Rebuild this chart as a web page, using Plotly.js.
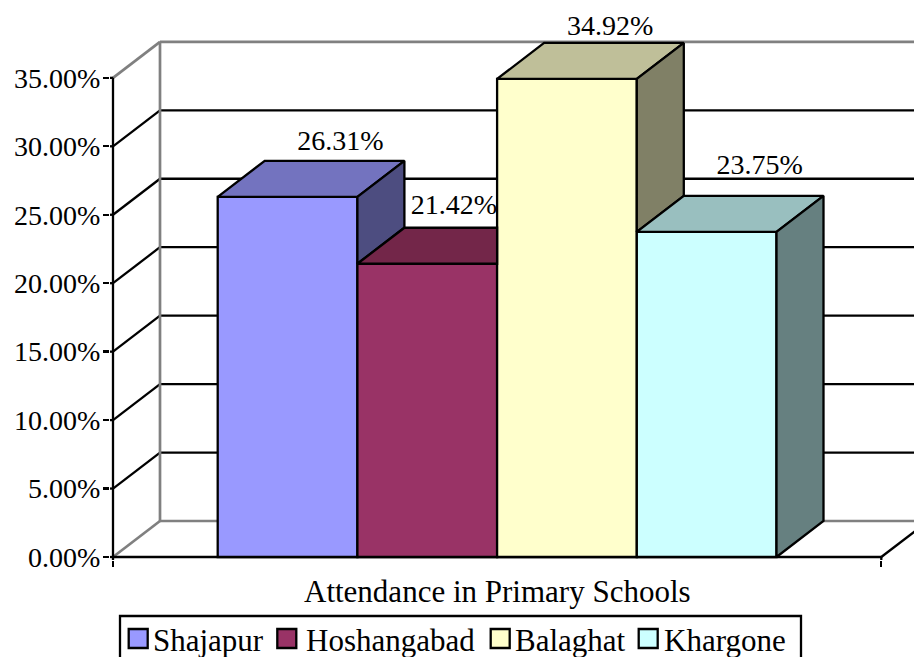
<!DOCTYPE html>
<html>
<head>
<meta charset="utf-8">
<script src="https://cdn.plot.ly/plotly-3.0.1.min.js"></script>
<style>html,body{margin:0;padding:0;background:#fff;overflow:hidden}</style>
</head>
<body>
<div id="chart" style="width:914px;height:657px"></div>
<script>
const districts = ['Shajapur', 'Hoshangabad', 'Balaghat', 'Khargone'];
const attendance = [26.31, 21.42, 34.92, 23.75];
const frontColors = ['#9999FF', '#993366', '#FFFFCC', '#CCFFFF'];
const topColors = ['#7373BF', '#732649', '#BFBF99', '#99BFBF'];
const sideColors = ['#4D4D80', '#4D1A33', '#808066', '#668080'];
const yTicks = [0, 5, 10, 15, 20, 25, 30, 35];
const categoryTitle = 'Attendance in Primary Schools';

const W = 914, H = 657;
const L = 110, B = 97;                 // plot edge sits 3px outside the axis lines so they are not clipped
const edge = 3;
const pxPerUnitY = 13.69, pxPerBar = 139.7;
const xMin = -0.5 - 104.7 / pxPerBar;  // position of the value axis
const xEnd = xMin + 768.3 / pxPerBar;  // right end of the category axis
const xLo = xMin - edge / pxPerBar;
const xHi = xLo + (W - L) / pxPerBar;
const yLo = -edge / pxPerUnitY;
const yHi = yLo + (H - B) / pxPerUnitY;
const dx = 47 / pxPerBar, dy = 36 / pxPerUnitY;
const xBack = xMin + dx;
const yTop = yTicks[yTicks.length - 1];
const FONT = 'Liberation Serif, serif';
const FS_NUM = 28, FS_TXT = 31;
const GRAY = '#808080';
const LW = 2.3, LW_GRAY = 2.7;

const line = (x0, y0, x1, y1, color) => ({type: 'line', layer: 'below', xref: 'x', yref: 'y', x0, y0, x1, y1,
  line: {color, width: color === GRAY ? LW_GRAY : LW}});
const shapes = [];
yTicks.forEach(t => {
  const c = (t === yTop || t === 0) ? GRAY : '#000';
  shapes.push(line(xBack, t + dy, xHi + 1, t + dy, c));
  shapes.push(line(xMin, t, xBack, t + dy, c));
  shapes.push(line(xLo, t, xMin, t, '#000'));
});
shapes.push(line(xBack, dy, xBack, yTop + dy, GRAY));
shapes.push(line(xEnd, 0, xEnd + dx, dy, '#000'));
shapes.push(line(xMin, yLo, xMin, yTop, '#000'));
shapes.push(line(xMin, 0, xEnd, 0, '#000'));
shapes.push(line(xEnd, yLo, xEnd, 0, '#000'));

const traces = [];
districts.forEach((d, i) => {
  traces.push({type: 'bar', x: [i], y: [attendance[i]], width: 1, name: d,
    marker: {color: frontColors[i], line: {color: '#000', width: LW}}, hoverinfo: 'name+y'});
});
districts.forEach((d, i) => {
  const v = attendance[i], x0 = i - 0.5, x1 = i + 0.5;
  const next = attendance[i + 1];
  const taller = next !== undefined && next > v;
  const topX = taller ? [x0, x1, x1, x0 + dx, x0] : [x0, x1, x1 + dx, x0 + dx, x0];
  traces.push({type: 'scatter', mode: 'lines', fill: 'toself', showlegend: false, hoverinfo: 'skip',
    x: topX, y: [v, v, v + dy, v + dy, v], fillcolor: topColors[i], line: {color: '#000', width: LW}});
  if (!taller) {
    const floor = next === undefined ? 0 : next;
    traces.push({type: 'scatter', mode: 'lines', fill: 'toself', showlegend: false, hoverinfo: 'skip',
      x: [x1, x1 + dx, x1 + dx, x1, x1], y: [v, v + dy, floor + dy, floor, v], fillcolor: sideColors[i], line: {color: '#000', width: LW}});
  }
});
const labelShiftX = [0.378, 0.19, 0.309, 0.38];
const labelRiseY = [1.3, 1.5, 1.1, 2.1];
traces.push({type: 'scatter', mode: 'text', showlegend: false, hoverinfo: 'skip', cliponaxis: false,
  x: districts.map((d, i) => i + labelShiftX[i]),
  y: attendance.map((v, i) => v + dy + labelRiseY[i]),
  text: attendance.map(v => v.toFixed(2) + '%'),
  textposition: 'middle center',
  textfont: {family: FONT, size: FS_NUM, color: '#000'}});

// legend box, cut by the bottom of the page as in the reference
const px = x => (x - L) / (W - L);
const py = y => (H - B - y) / (H - B);
const legendBox = {left: 120, right: 801, top: 616, bottom: 680};
const swatchLeft = [128.7, 277.3, 490.7, 638.7];
const swatchSize = 19;
const swatchTop = 629;
const legendTextCenter = [208.5, 390, 570.5, 724.5];
const legendTextY = 640;
shapes.push({type: 'rect', layer: 'above', xref: 'paper', yref: 'paper',
  x0: px(legendBox.left), x1: px(legendBox.right), y0: py(legendBox.bottom), y1: py(legendBox.top),
  line: {color: '#000', width: LW}, fillcolor: '#fff'});
districts.forEach((d, i) => {
  shapes.push({type: 'rect', layer: 'above', xref: 'paper', yref: 'paper',
    x0: px(swatchLeft[i]), x1: px(swatchLeft[i] + swatchSize), y0: py(swatchTop + swatchSize), y1: py(swatchTop),
    line: {color: '#000', width: LW}, fillcolor: frontColors[i]});
});
const annotations = [{text: categoryTitle, xref: 'x', yref: 'paper', x: (xMin + xEnd) / 2, y: py(591), showarrow: false,
  xanchor: 'center', yanchor: 'middle', font: {family: FONT, size: FS_TXT, color: '#000'}}];
districts.forEach((d, i) => {
  annotations.push({text: d, xref: 'paper', yref: 'paper', x: px(legendTextCenter[i]), y: py(legendTextY), showarrow: false,
    xanchor: 'center', yanchor: 'middle', font: {family: FONT, size: FS_TXT, color: '#000'}});
});

const layout = {
  width: W, height: H, paper_bgcolor: '#fff', plot_bgcolor: 'rgba(0,0,0,0)',
  margin: {l: L, r: 0, t: 0, b: B, pad: 0, autoexpand: false},
  barmode: 'overlay', showlegend: false, hovermode: 'closest',
  font: {family: FONT, size: FS_NUM, color: '#000'},
  xaxis: {range: [xLo, xHi], showgrid: false, zeroline: false, showline: false, fixedrange: true,
    tickmode: 'array', tickvals: [xMin, xEnd], ticktext: ['', ''], ticks: 'outside', ticklen: 6, tickwidth: LW, tickcolor: '#000'},
  yaxis: {range: [yLo, yHi], showgrid: false, zeroline: false, showline: false, fixedrange: true,
    tickmode: 'array', tickvals: yTicks, ticktext: yTicks.map(t => t.toFixed(2) + '%'), ticks: 'outside', ticklen: 6, tickwidth: LW, tickcolor: '#000',
    ticklabelstandoff: -3,
    tickfont: {family: FONT, size: FS_NUM, color: '#000'}},
  shapes, annotations
};
Plotly.newPlot('chart', traces, layout, {displayModeBar: false, staticPlot: true});
</script>
</body>
</html>
